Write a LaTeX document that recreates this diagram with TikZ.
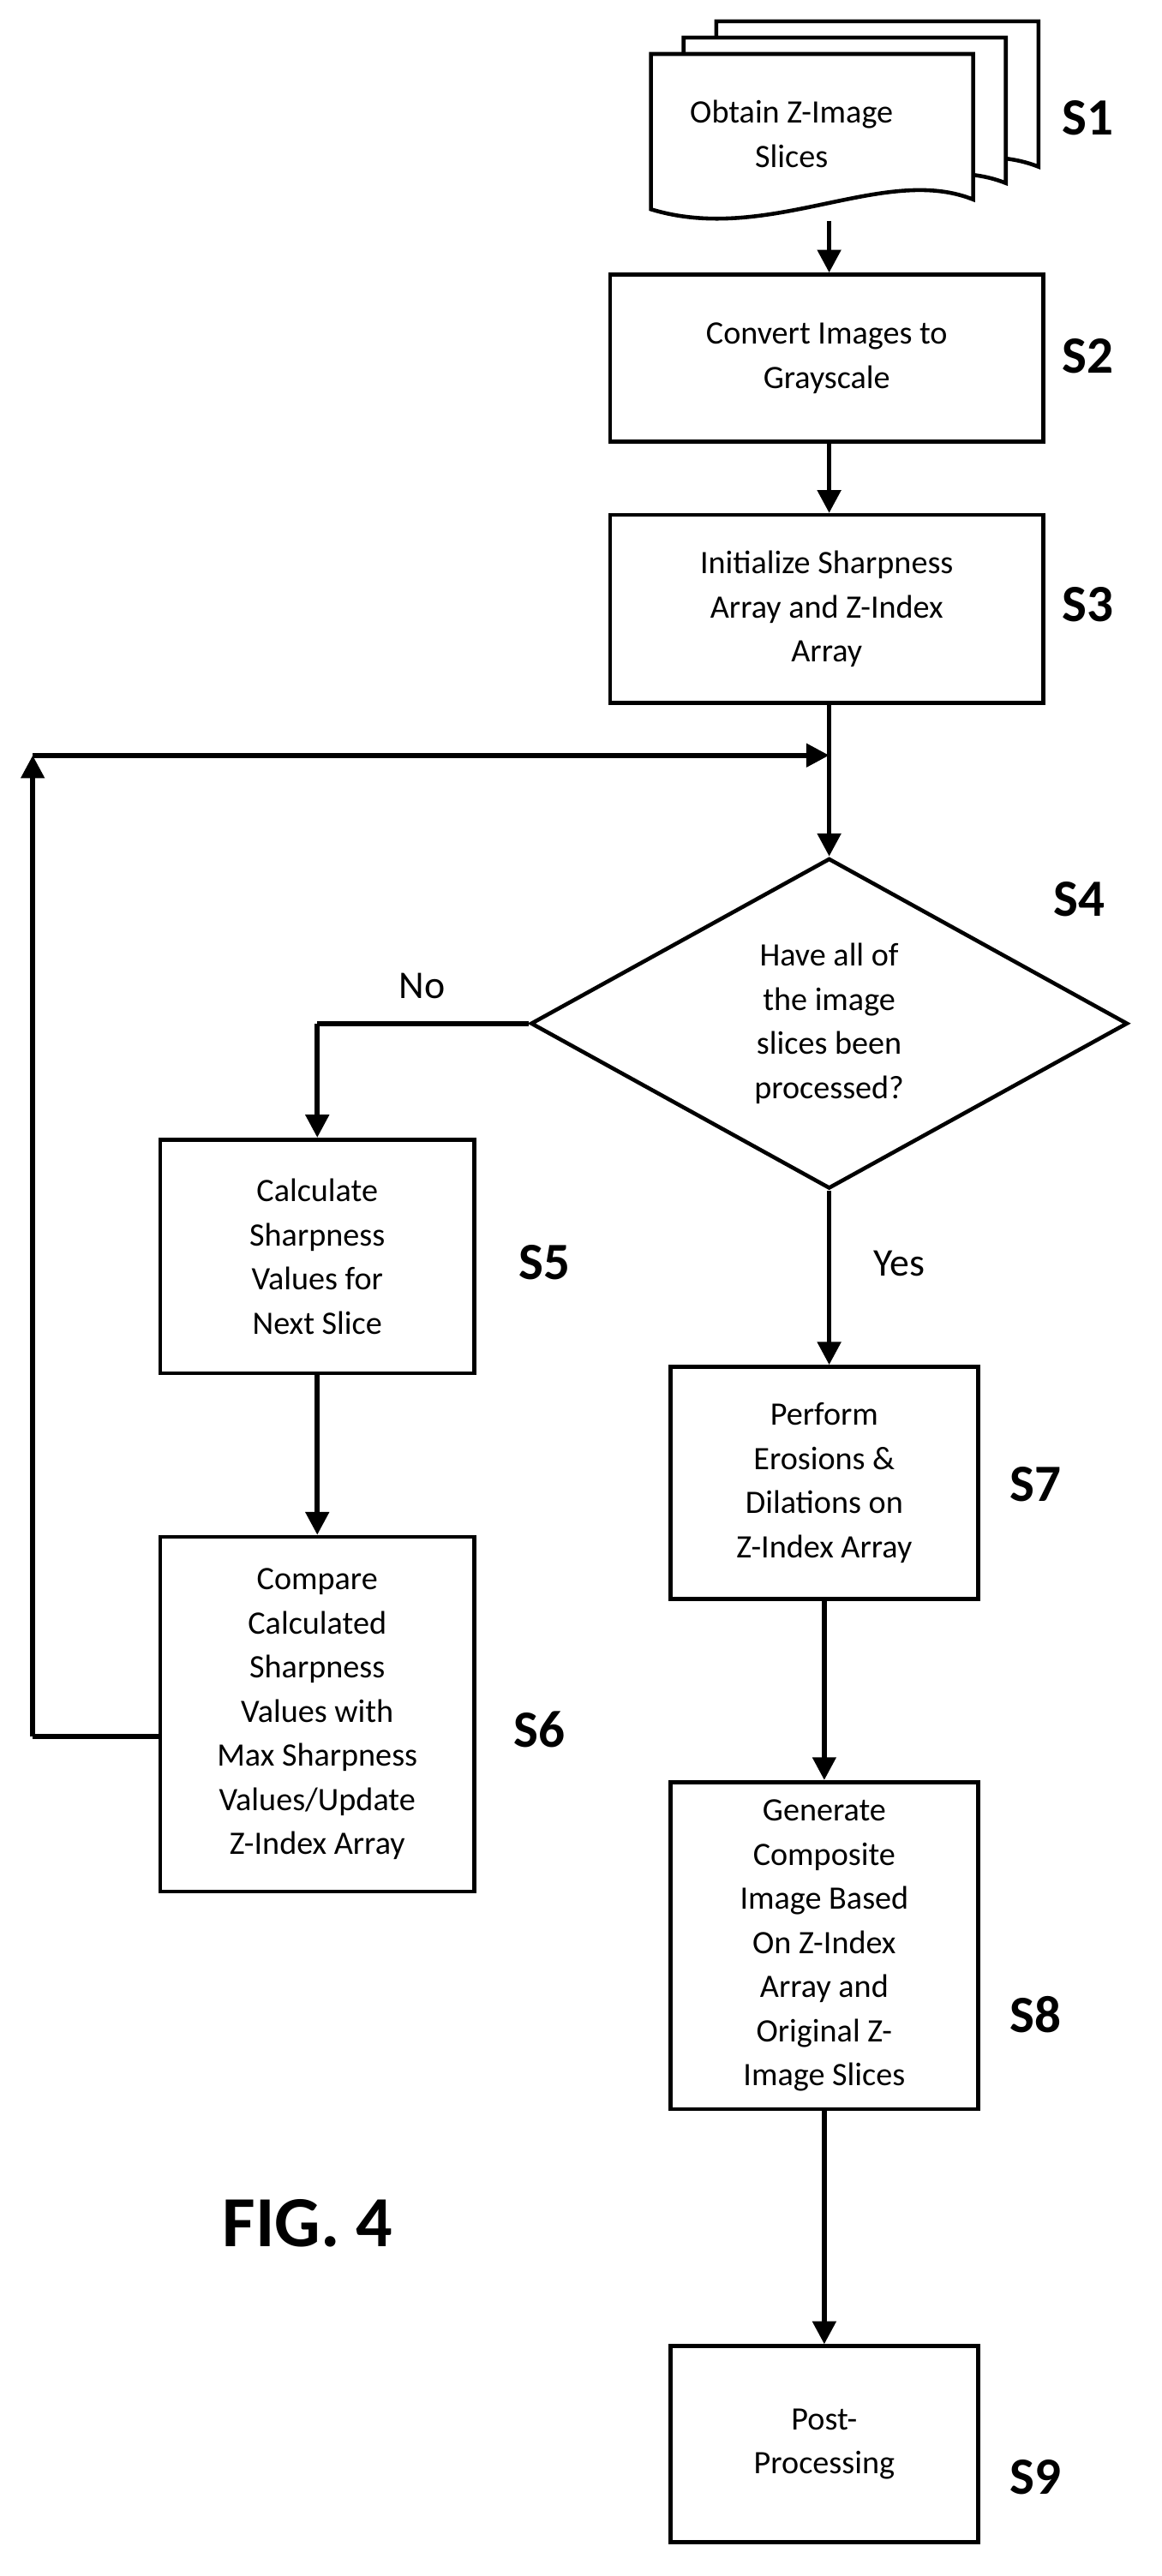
\documentclass[tikz,border=0pt]{standalone}
\usepackage{fontspec}
\setmainfont{Carlito}
\usetikzlibrary{arrows.meta,shapes.geometric}
\begin{document}
\begin{tikzpicture}[x=1pt,y=-1pt,
  box/.style={draw,line width=2.4pt,fill=white,align=center,font=\fontsize{20}{27}\selectfont,inner sep=0pt},
  lbl/.style={font=\fontsize{32}{32}\selectfont\bfseries},
  arr/.style={line width=3pt,-{Triangle[length=14pt,width=14pt]}},
  ln/.style={line width=3pt}]
\useasboundingbox (0,0) rectangle (710,1575.6);
% S1 document stack
\foreach \d in {40,20,0}{
  \draw[line width=2.4pt,fill=white] (398+\d,33-\d/2) -- (595+\d,33-\d/2) -- (595+\d,122-\d/2)
     .. controls (540+\d,100-\d/2) and (470+\d,150-\d/2) .. (398+\d,128-\d/2) -- cycle;}
\node[align=center,font=\fontsize{20}{27}\selectfont] (s1) at (484,82) {Obtain Z-Image\\Slices};
\coordinate (s1b) at (507,135);
\node[box,minimum width=265pt,minimum height=102pt] (s2) at (505.5,219) {Convert Images to\\Grayscale};
\node[box,minimum width=265pt,minimum height=115pt] (s3) at (505.5,372.5) {Initialize Sharpness\\Array and Z-Index\\Array};
\node[diamond,draw,line width=2.4pt,aspect=1.8,minimum width=365pt,minimum height=202pt,inner sep=0pt,align=center,font=\fontsize{20}{27}\selectfont] (s4) at (507,626) {Have all of\\the image\\slices been\\processed?};
\node[box,minimum width=192pt,minimum height=143pt] (s5) at (194,768.5) {Calculate\\Sharpness\\Values for\\Next Slice};
\node[box,minimum width=192pt,minimum height=217pt] (s6) at (194,1048.5) {Compare\\Calculated\\Sharpness\\Values with\\Max Sharpness\\Values/Update\\Z-Index Array};
\node[box,minimum width=188pt,minimum height=142pt] (s7) at (504,907) {Perform\\Erosions \&\\Dilations on\\Z-Index Array};
\node[box,minimum width=188pt,minimum height=200pt] (s8) at (504,1190) {Generate\\Composite\\Image Based\\On Z-Index\\Array and\\Original Z-\\Image Slices};
\node[box,minimum width=188pt,minimum height=120pt] (s9) at (504,1495) {Post-\\Processing};
% labels
\node[lbl] (l1) at (665,72) {S1};
\node[lbl] (l2) at (665,218) {S2};
\node[lbl] (l3) at (665,370) {S3};
\node[lbl] (l4) at (660,550) {S4};
\node[lbl] (l5) at (333,772) {S5};
\node[lbl] (l6) at (330,1058) {S6};
\node[lbl] (l7) at (633,908) {S7};
\node[lbl] (l8) at (633,1232) {S8};
\node[lbl] (l9) at (633,1515) {S9};
\node[font=\fontsize{44}{44}\selectfont\bfseries] (fig) at (188,1360) {FIG. 4};
\node[font=\fontsize{24}{24}\selectfont] (no) at (258,603) {No};
\node[font=\fontsize{24}{24}\selectfont] (yes) at (550,773) {Yes};
% connectors
\draw[arr] (s1b) -- (s2.north -| s1b);
\draw[arr] (s2.south -| s1b) -- (s3.north -| s1b);
\coordinate (j) at (507,462);
\draw[arr] (s3.south -| s1b) -- (s4.north);
\coordinate (c1) at (20,1062);
\coordinate (c2) at (20,462);
\draw[ln] (s6.west |- c1) -- (c1);
\draw[arr] (c1) -- (c2);
\draw[arr] (c2) -- (j);
\coordinate (nc) at (s5.north |- s4.west);
\draw[ln] (s4.west) -- (nc);
\draw[arr] (nc) -- (s5.north);
\draw[arr] (s5) -- (s6);
\draw[arr] (s4.south) -- (s7.north -| s4.south);
\draw[arr] (s7) -- (s8);
\draw[arr] (s8) -- (s9);
\end{tikzpicture}
\end{document}
